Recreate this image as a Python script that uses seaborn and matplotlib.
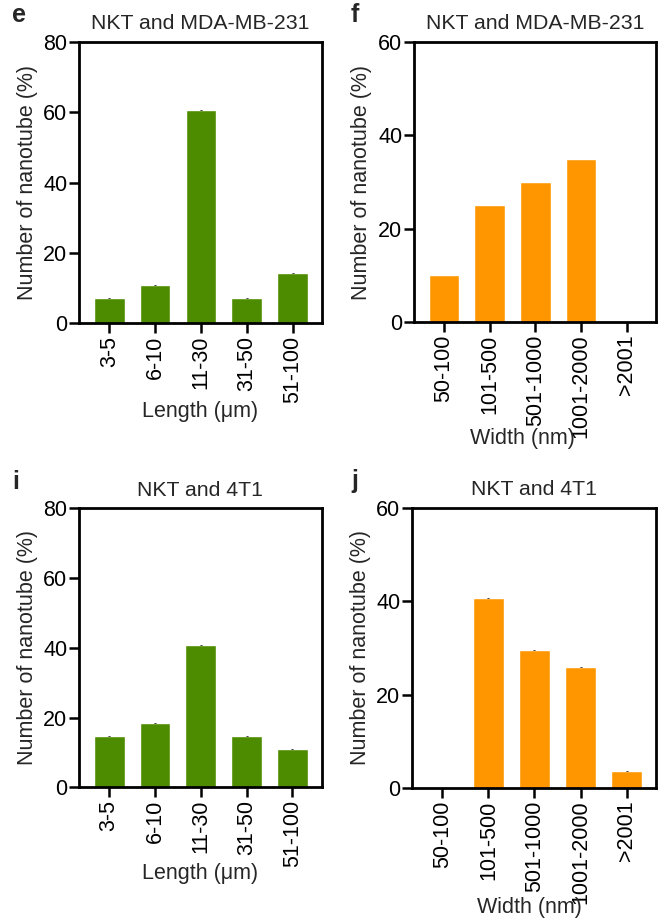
import matplotlib
matplotlib.use("Agg")
import matplotlib.pyplot as plt
import seaborn as sns
import pandas as pd

# ---- data ----
length_cats = ["3-5", "6-10", "11-30", "31-50", "51-100"]
width_cats = ["50-100", "101-500", "501-1000", "1001-2000", ">2001"]

len_mda = [7.14, 10.71, 60.71, 7.14, 14.29]
wid_mda = [10.0, 25.0, 30.0, 35.0, 0.0]
len_4t1 = [14.81, 18.52, 40.74, 14.81, 11.11]
wid_4t1 = [0.0, 40.74, 29.63, 25.93, 3.70]

title_mda = "NKT and MDA-MB-231"
title_4t1 = "NKT and 4T1"
ylabel = "Number of nanotube (%)"
xlabel_len = "Length (\u03bcm)"
xlabel_wid = "Width (nm)"

green = "#4d8c00"
orange = "#ff9600"

sns.set_style("ticks")
plt.rcParams["font.family"] = ["Liberation Sans", "DejaVu Sans"]
plt.rcParams["font.size"] = 15.5

fig = plt.figure(figsize=(6.66, 9.19), dpi=100)

panels = [
    # letter, rect, cats, vals, color, title, xlabel, ymax, xlabel_coords, caps
    ("e", [0.1186, 0.6485, 0.3649, 0.3058], length_cats, len_mda, green, title_mda, xlabel_len, 80, (0.5, -0.278), True),
    ("f", [0.6216, 0.6496, 0.3634, 0.3047], width_cats, wid_mda, orange, title_mda, xlabel_wid, 60, (0.45, -0.379), False),
    ("i", [0.1186, 0.1433, 0.3645, 0.3036], length_cats, len_4t1, green, title_4t1, xlabel_len, 80, (0.5, -0.272), True),
    ("j", [0.6186, 0.1422, 0.3664, 0.3054], width_cats, wid_4t1, orange, title_4t1, xlabel_wid, 60, (0.48, -0.386), True),
]

for letter, rect, cats, vals, color, title, xlab, ymax, xlc, caps in panels:
    ax = fig.add_axes(rect)
    df = pd.DataFrame({"cat": cats, "val": vals})
    sns.barplot(data=df, x="cat", y="val", order=cats, color=color,
                saturation=1, width=0.67, ax=ax, errorbar=None)
    if caps:
        xs = [i for i, v in enumerate(vals) if v > 0]
        ys = [v for v in vals if v > 0]
        ax.errorbar(xs, ys, yerr=[0] * len(xs), fmt="none", ecolor="#222222",
                    capsize=1.0, elinewidth=0.4, capthick=0.4)
    ax.set_xlim(-0.66, 4.64)
    ax.set_ylim(0, ymax)
    ax.set_yticks(range(0, ymax + 1, 20))
    for s in ax.spines.values():
        s.set_visible(True)
        s.set_linewidth(2.0)
        s.set_color("black")
    ax.tick_params(axis="both", direction="out", length=7, width=1.8,
                   labelsize=15.5, colors="black")
    ax.tick_params(axis="y", pad=1.5)
    ax.tick_params(axis="x", pad=2)
    ax.set_xticks(range(len(cats)))
    ax.set_xticklabels(cats, rotation=90)
    ax.set_ylabel(ylabel, fontsize=15.5, labelpad=4)
    ax.set_xlabel(xlab, fontsize=15.5)
    ax.xaxis.set_label_coords(*xlc)
    ax.set_title(title, fontsize=15.3, pad=9)
    # panel letter
    bbox = ax.get_position()
    lx = 0.018 if bbox.x0 < 0.5 else 0.527
    ly = bbox.y1 + 0.029
    fig.text(lx, ly, letter, fontsize=18, fontweight="bold", ha="left", va="center")

fig.savefig("out.png", dpi=100, facecolor="white")
